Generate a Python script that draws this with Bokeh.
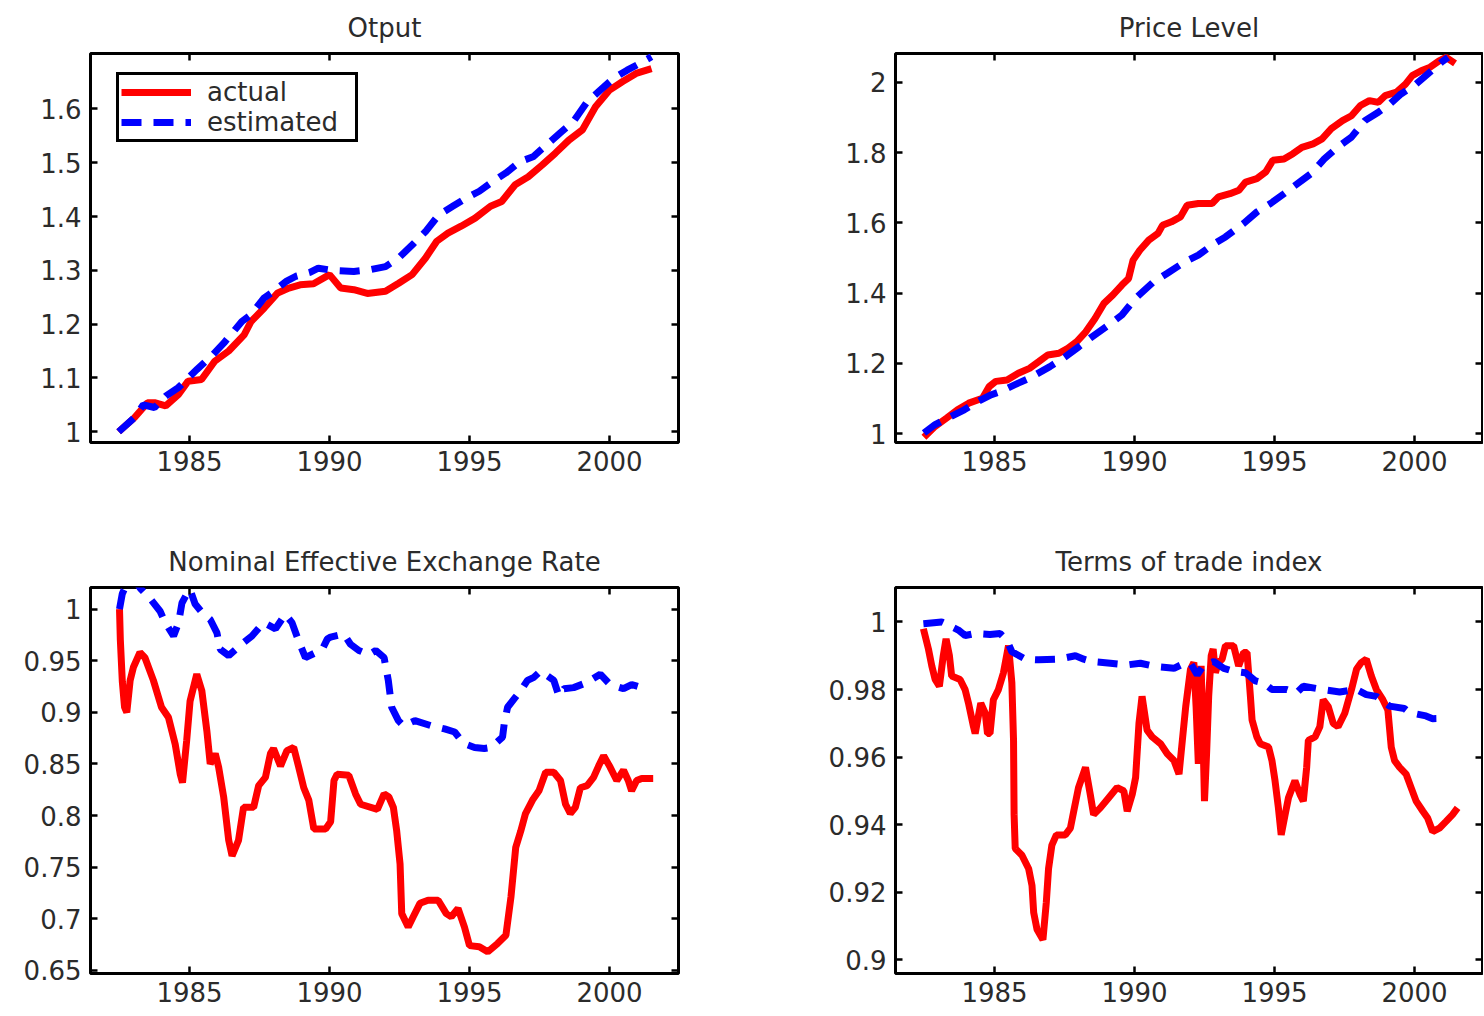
from bokeh.plotting import figure
from bokeh.models import LinearAxis, FixedTicker, Range1d, Legend, LegendItem
from bokeh.layouts import column, row
from bokeh.embed import file_html
from bokeh.resources import INLINE

FONT = "DejaVu Sans"
TXT = "#2b2b2b"
RED = "#ff0000"
BLUE = "#0000ff"

# ---------------- ticks ----------------
x_ticks = [1985, 1990, 1995, 2000]
x_tick_labels = ["1985", "1990", "1995", "2000"]
output_yticks = [1, 1.1, 1.2, 1.3, 1.4, 1.5, 1.6]
output_ylabels = ["1", "1.1", "1.2", "1.3", "1.4", "1.5", "1.6"]
price_yticks = [1, 1.2, 1.4, 1.6, 1.8, 2]
price_ylabels = ["1", "1.2", "1.4", "1.6", "1.8", "2"]
neer_yticks = [0.65, 0.7, 0.75, 0.8, 0.85, 0.9, 0.95, 1]
neer_ylabels = ["0.65", "0.7", "0.75", "0.8", "0.85", "0.9", "0.95", "1"]
tot_yticks = [0.9, 0.92, 0.94, 0.96, 0.98, 1]
tot_ylabels = ["0.9", "0.92", "0.94", "0.96", "0.98", "1"]

# ---------------- data: Output ----------------
out_act_x = [1982.47, 1983.03, 1983.5, 1983.75, 1984.15, 1984.6, 1984.95, 1985.43, 1985.9, 1986.4,
             1986.95, 1987.2, 1987.67, 1988.15, 1988.55, 1988.95, 1989.43, 1990.0, 1990.4, 1990.87,
             1991.35, 1992.0, 1992.47, 1992.95, 1993.43, 1993.83, 1994.23, 1994.7, 1995.2, 1995.75,
             1996.15, 1996.63, 1997.1, 1997.6, 1998.07, 1998.55, 1999.03, 1999.5, 2000.0, 2000.47,
             2000.95, 2001.5]
out_act_y = [1.0, 1.026, 1.054, 1.054, 1.048, 1.069, 1.094, 1.097, 1.131, 1.15,
             1.18, 1.205, 1.23, 1.258, 1.267, 1.273, 1.275, 1.292, 1.267, 1.264,
             1.257, 1.261, 1.276, 1.292, 1.323, 1.354, 1.369, 1.382, 1.397, 1.419,
             1.428, 1.459, 1.474, 1.496, 1.518, 1.542, 1.561, 1.604, 1.635, 1.651,
             1.666, 1.675]
out_est_x = [1982.47, 1983.03, 1983.35, 1983.75, 1984.15, 1984.6, 1985.27, 1985.83, 1986.23, 1986.87,
             1987.2, 1987.67, 1988.0, 1988.47, 1988.8, 1989.3, 1989.6, 1990.1, 1990.87, 1991.43,
             1992.0, 1992.47, 1992.95, 1993.43, 1993.9, 1994.4, 1994.87, 1995.35, 1995.83, 1996.3,
             1996.8, 1997.27, 1997.75, 1998.23, 1998.7, 1999.2, 1999.67, 2000.15, 2000.63, 2001.1,
             2001.5]
out_est_y = [1.0, 1.026, 1.05, 1.045, 1.066, 1.082, 1.116, 1.143, 1.165, 1.205,
             1.218, 1.249, 1.261, 1.28, 1.289, 1.296, 1.304, 1.30, 1.298, 1.301,
             1.307, 1.323, 1.347, 1.372, 1.403, 1.419, 1.434, 1.447, 1.465, 1.481,
             1.502, 1.511, 1.533, 1.555, 1.576, 1.613, 1.635, 1.657, 1.672, 1.685,
             1.697]

# ---------------- data: Price Level ----------------
price_act_x = [1982.48, 1982.88, 1983.28, 1983.68, 1984.08, 1984.57, 1984.81, 1985.05, 1985.45, 1985.85,
               1986.25, 1986.58, 1986.9, 1987.3, 1987.62, 1987.94, 1988.26, 1988.59, 1988.91, 1989.23,
               1989.55, 1989.79, 1989.95, 1990.19, 1990.51, 1990.84, 1991.0, 1991.32, 1991.64, 1991.88,
               1992.28, 1992.77, 1993.0, 1993.41, 1993.73, 1993.97, 1994.37, 1994.69, 1994.94, 1995.34,
               1995.66, 1995.98, 1996.38, 1996.7, 1997.03, 1997.43, 1997.75, 1998.07, 1998.39, 1998.71,
               1998.95, 1999.36, 1999.68, 1999.92, 2000.24, 2000.56, 2000.88, 2001.13, 2001.45]
price_act_y = [0.99, 1.021, 1.044, 1.068, 1.087, 1.101, 1.134, 1.149, 1.153, 1.172,
               1.186, 1.205, 1.224, 1.229, 1.243, 1.262, 1.29, 1.328, 1.371, 1.395,
               1.423, 1.442, 1.494, 1.522, 1.551, 1.57, 1.593, 1.603, 1.617, 1.65,
               1.655, 1.655, 1.674, 1.683, 1.693, 1.716, 1.726, 1.745, 1.778, 1.782,
               1.797, 1.815, 1.825, 1.839, 1.868, 1.891, 1.905, 1.934, 1.948, 1.943,
               1.962, 1.972, 1.995, 2.019, 2.033, 2.043, 2.061, 2.071, 2.054]
price_est_x = [1982.48, 1982.88, 1983.44, 1983.92, 1984.41, 1984.89, 1985.21, 1985.85, 1986.25, 1986.98,
               1987.46, 1988.02, 1988.42, 1989.07, 1989.55, 1990.03, 1990.68, 1991.16, 1991.8, 1992.28,
               1992.85, 1993.25, 1993.89, 1994.37, 1994.86, 1995.34, 1995.98, 1996.3, 1996.78, 1997.27,
               1997.75, 1998.23, 1998.71, 1999.12, 1999.52, 2000.0, 2000.48, 2000.96, 2001.2]
price_est_y = [1.002, 1.026, 1.049, 1.068, 1.092, 1.111, 1.12, 1.144, 1.158, 1.191,
               1.215, 1.248, 1.272, 1.309, 1.338, 1.385, 1.432, 1.456, 1.489, 1.508,
               1.541, 1.56, 1.598, 1.631, 1.655, 1.683, 1.721, 1.74, 1.782, 1.816,
               1.844, 1.891, 1.915, 1.938, 1.967, 1.991, 2.024, 2.057, 2.071]

# ---------------- data: Nominal Effective Exchange Rate ----------------
neer_act_x = [1982.5, 1982.53, 1982.6, 1982.68, 1982.76, 1982.88, 1983.0, 1983.23, 1983.41, 1983.71,
              1984.0, 1984.25, 1984.49, 1984.67, 1984.75, 1984.9, 1985.02, 1985.26, 1985.44, 1985.62,
              1985.74, 1985.92, 1986.04, 1986.22, 1986.4, 1986.52, 1986.75, 1986.93, 1987.29, 1987.47,
              1987.71, 1987.89, 1988.0, 1988.25, 1988.48, 1988.72, 1988.9, 1989.08, 1989.26, 1989.44,
              1989.86, 1990.04, 1990.16, 1990.27, 1990.69, 1990.93, 1991.11, 1991.71, 1991.95, 1992.12,
              1992.28, 1992.4, 1992.52, 1992.58, 1992.81, 1992.99, 1993.23, 1993.52, 1993.88, 1994.17,
              1994.35, 1994.59, 1994.82, 1995.0, 1995.35, 1995.65, 1996.0, 1996.3, 1996.48, 1996.65,
              1996.83, 1997.0, 1997.25, 1997.48, 1997.72, 1998.01, 1998.25, 1998.43, 1998.6, 1998.78,
              1998.96, 1999.2, 1999.43, 1999.61, 1999.79, 2000.02, 2000.26, 2000.5, 2000.67, 2000.79,
              2000.97, 2001.15, 2001.56]
neer_act_y = [1.0, 0.97, 0.93, 0.905, 0.90, 0.931, 0.944, 0.958, 0.953, 0.931,
              0.905, 0.895, 0.869, 0.84, 0.832, 0.873, 0.911, 0.937, 0.921, 0.882,
              0.85, 0.86, 0.847, 0.818, 0.776, 0.761, 0.776, 0.808, 0.808, 0.829,
              0.837, 0.86, 0.865, 0.848, 0.863, 0.866, 0.847, 0.827, 0.815, 0.787,
              0.787, 0.794, 0.834, 0.84, 0.839, 0.821, 0.811, 0.806, 0.821, 0.818,
              0.808, 0.785, 0.753, 0.705, 0.692, 0.702, 0.715, 0.718, 0.718, 0.705,
              0.702, 0.71, 0.692, 0.674, 0.673, 0.668, 0.676, 0.684, 0.721, 0.769,
              0.785, 0.802, 0.815, 0.824, 0.842, 0.842, 0.834, 0.811, 0.802, 0.808,
              0.827, 0.829, 0.837, 0.848, 0.858, 0.847, 0.834, 0.844, 0.834, 0.824,
              0.834, 0.836, 0.836]
neer_est_x = [1982.5, 1982.6, 1982.75, 1983.0, 1983.25, 1983.6, 1983.95, 1984.13, 1984.43, 1984.61,
              1984.73, 1984.9, 1985.02, 1985.2, 1985.44, 1985.74, 1985.98, 1986.1, 1986.4, 1986.81,
              1987.23, 1987.65, 1988.07, 1988.42, 1988.66, 1988.9, 1989.14, 1989.74, 1989.92, 1990.04,
              1990.51, 1990.75, 1991.05, 1991.41, 1991.65, 1991.95, 1992.1, 1992.22, 1992.46, 1992.64,
              1993.05, 1993.64, 1994.11, 1994.47, 1994.7, 1994.88, 1995.18, 1995.53, 1995.77, 1996.18,
              1996.24, 1996.36, 1996.65, 1996.83, 1997.07, 1997.3, 1997.54, 1998.01, 1998.19, 1998.37,
              1998.72, 1999.2, 1999.67, 2000.02, 2000.5, 2000.79, 2001.15]
neer_est_y = [1.0, 1.015, 1.024, 1.03, 1.02, 1.010, 0.998, 0.987, 0.974, 0.987,
              1.006, 1.0145, 1.019, 1.005, 0.997, 0.99, 0.977, 0.961, 0.955, 0.965,
              0.974, 0.987, 0.981, 0.995, 0.987, 0.969, 0.953, 0.961, 0.971, 0.973,
              0.976, 0.966, 0.96, 0.956, 0.96, 0.953, 0.931, 0.905, 0.892, 0.887,
              0.892, 0.887, 0.884, 0.881, 0.873, 0.869, 0.866, 0.865, 0.866, 0.876,
              0.889, 0.905, 0.915, 0.921, 0.931, 0.934, 0.94, 0.931, 0.916, 0.923,
              0.924, 0.929, 0.937, 0.927, 0.923, 0.927, 0.924]

# ---------------- data: Terms of trade index ----------------
tot_act_x = [1982.46, 1982.64, 1982.76, 1982.88, 1983.03, 1983.17, 1983.27, 1983.39, 1983.47, 1983.77,
             1983.95, 1984.07, 1984.25, 1984.31, 1984.51, 1984.67, 1984.75, 1984.84, 1984.96, 1985.14,
             1985.32, 1985.5, 1985.62, 1985.68, 1985.7, 1985.74, 1985.98, 1986.22, 1986.34, 1986.4,
             1986.52, 1986.73, 1986.85, 1986.93, 1987.05, 1987.21, 1987.53, 1987.71, 1987.83, 1988.0,
             1988.25, 1988.42, 1988.54, 1988.78, 1989.08, 1989.38, 1989.62, 1989.74, 1989.92, 1990.04,
             1990.16, 1990.27, 1990.45, 1990.63, 1990.93, 1991.17, 1991.41, 1991.59, 1991.71, 1991.83,
             1992.0, 1992.12, 1992.2, 1992.28, 1992.33, 1992.38, 1992.45, 1992.5, 1992.58, 1992.65,
             1992.74, 1992.81, 1992.89, 1993.0, 1993.13, 1993.25, 1993.54, 1993.72, 1993.9, 1994.02,
             1994.14, 1994.2, 1994.37, 1994.49, 1994.79, 1994.91, 1995.02, 1995.14, 1995.24, 1995.38,
             1995.5, 1995.73, 1995.91, 1996.03, 1996.15, 1996.21, 1996.45, 1996.62, 1996.74, 1996.92,
             1997.1, 1997.27, 1997.51, 1997.75, 1997.93, 1998.1, 1998.28, 1998.46, 1998.64, 1998.87,
             1999.05, 1999.17, 1999.29, 1999.47, 1999.7, 1999.88, 2000.06, 2000.3, 2000.47, 2000.65,
             2000.89, 2001.13, 2001.36, 2001.54]
tot_act_y = [0.998, 0.992, 0.987, 0.983, 0.981, 0.990, 0.995, 0.990, 0.984, 0.983,
             0.980, 0.976, 0.969, 0.967, 0.976, 0.973, 0.967, 0.967, 0.977, 0.980,
             0.985, 0.993, 0.982, 0.965, 0.943, 0.933, 0.931, 0.927, 0.922, 0.914,
             0.909, 0.906, 0.917, 0.927, 0.934, 0.937, 0.937, 0.939, 0.944, 0.951,
             0.957, 0.949, 0.943, 0.945, 0.948, 0.951, 0.950, 0.944, 0.949, 0.954,
             0.970, 0.978, 0.968, 0.966, 0.964, 0.961, 0.959, 0.955, 0.965, 0.975,
             0.986, 0.988, 0.975, 0.958, 0.975, 0.987, 0.965, 0.947, 0.962, 0.978,
             0.990, 0.992, 0.985, 0.988, 0.989, 0.993, 0.993, 0.987, 0.991, 0.991,
             0.978, 0.971, 0.966, 0.964, 0.963, 0.959, 0.953, 0.945, 0.937, 0.943,
             0.948, 0.953, 0.949, 0.947, 0.957, 0.965, 0.966, 0.969, 0.977, 0.975,
             0.970, 0.969, 0.973, 0.980, 0.986, 0.988, 0.989, 0.984, 0.980, 0.977,
             0.974, 0.963, 0.959, 0.957, 0.955, 0.951, 0.947, 0.944, 0.942, 0.938,
             0.939, 0.941, 0.943, 0.945]
tot_est_x = [1982.46, 1983.11, 1983.71, 1983.95, 1984.31, 1984.84, 1985.2, 1985.44, 1985.62, 1986.1,
             1986.58, 1987.29, 1987.89, 1988.19, 1988.48, 1989.14, 1989.74, 1990.21, 1990.75, 1991.41,
             1991.71, 1992.0, 1992.24, 1992.48, 1992.83, 1993.19, 1993.54, 1993.96, 1994.31, 1994.61,
             1994.91, 1995.44, 1995.79, 1996.03, 1996.74, 1997.33, 1997.93, 1998.28, 1998.64, 1999.11,
             1999.64, 1999.82, 2000.41, 2000.65, 2001.13]
tot_est_y = [0.9995, 1.0, 0.9976, 0.996, 0.9966, 0.9963, 0.9966, 0.9946, 0.9912, 0.989,
             0.9888, 0.989, 0.990, 0.989, 0.9883, 0.9878, 0.9873, 0.9878, 0.9868, 0.9863,
             0.9875, 0.9878, 0.9844, 0.9873, 0.9883, 0.9863, 0.9854, 0.985, 0.9826, 0.982,
             0.980, 0.980, 0.979, 0.981, 0.980, 0.9793, 0.980, 0.9785, 0.978, 0.9751,
             0.9744, 0.9732, 0.9722, 0.9714, 0.9715]


def make_fig(title, width, height, borders, xr, yr, yticks, ylabels):
    left, right, top, bottom = borders
    p = figure(width=width, height=height, x_range=Range1d(*xr), y_range=Range1d(*yr),
               output_backend="svg", toolbar_location=None, tools="",
               x_axis_location=None, y_axis_location=None,
               min_border_left=left, min_border_right=right,
               min_border_top=top, min_border_bottom=bottom)
    p.title.text = title
    p.title.align = "center"
    p.title.text_font = FONT
    p.title.text_font_size = "26px"
    p.title.text_font_style = "normal"
    p.title.text_color = TXT
    p.title.standoff = 21
    p.grid.visible = False
    p.outline_line_color = "black"
    p.outline_line_width = 3
    p.background_fill_color = "white"
    p.border_fill_color = "white"
    specs = [("below", True, True), ("above", True, False),
             ("left", False, True), ("right", False, False)]
    for loc, is_x, show in specs:
        ticks = x_ticks if is_x else yticks
        labels = x_tick_labels if is_x else ylabels
        ax = LinearAxis(ticker=FixedTicker(ticks=ticks))
        ax.axis_line_color = None
        ax.major_tick_in = 7
        ax.major_tick_out = 0
        ax.major_tick_line_width = 2.5
        ax.major_tick_line_color = "black"
        ax.minor_tick_line_color = None
        if show:
            ax.major_label_overrides = dict(zip(ticks, labels))
            ax.major_label_text_font = FONT
            ax.major_label_text_font_size = "26px"
            ax.major_label_text_color = TXT
            ax.major_label_standoff = 8 if is_x else 9
        else:
            # tick marks only on the opposite sides (box style); labels not drawn
            ax.major_label_text_font_size = "1px"
            ax.major_label_text_color = None
            ax.major_label_standoff = 0
        p.add_layout(ax, loc)
    return p


def add_series(p, ax_, ay_, ex_, ey_):
    r1 = p.line(ax_, ay_, line_color=RED, line_width=7)
    r2 = p.line(ex_, ey_, line_color=BLUE, line_width=7, line_dash="20 12")
    return r1, r2


XR_L = (1981.464, 2002.464)
XR_R = (1981.464, 2002.43)

p1 = make_fig("Otput", 813, 534, (90, 135, 52, 92), XR_L, (0.98, 1.703),
              output_yticks, output_ylabels)
r1, r2 = add_series(p1, out_act_x, out_act_y, out_est_x, out_est_y)
legend = Legend(items=[LegendItem(label="actual", renderers=[r1]),
                       LegendItem(label="estimated", renderers=[r2])],
                location=(26, 300), margin=0, padding=2, spacing=0,
                glyph_width=70, glyph_height=30, label_height=30, label_width=146,
                label_standoff=16,
                border_line_color="black", border_line_width=3, border_line_alpha=1,
                label_text_font=FONT, label_text_font_size="26px", label_text_color=TXT,
                background_fill_color="white", background_fill_alpha=1)
p1.add_layout(legend)

p2 = make_fig("Price Level", 670, 534, (82, 1, 52, 92), XR_R, (0.975, 2.082),
              price_yticks, price_ylabels)
add_series(p2, price_act_x, price_act_y, price_est_x, price_est_y)

p3 = make_fig("Nominal Effective Exchange Rate", 813, 480, (90, 135, 52, 41), XR_L, (0.647, 1.021),
              neer_yticks, neer_ylabels)
add_series(p3, neer_act_x, neer_act_y, neer_est_x, neer_est_y)

p4 = make_fig("Terms of trade index", 670, 480, (82, 1, 52, 41), XR_R, (0.896, 1.0102),
              tot_yticks, tot_ylabels)
add_series(p4, tot_act_x, tot_act_y, tot_est_x, tot_est_y)

layout = column(row(p1, p2, spacing=0), row(p3, p4, spacing=0), spacing=0)
open("out.html", "w").write(file_html(layout, INLINE))
